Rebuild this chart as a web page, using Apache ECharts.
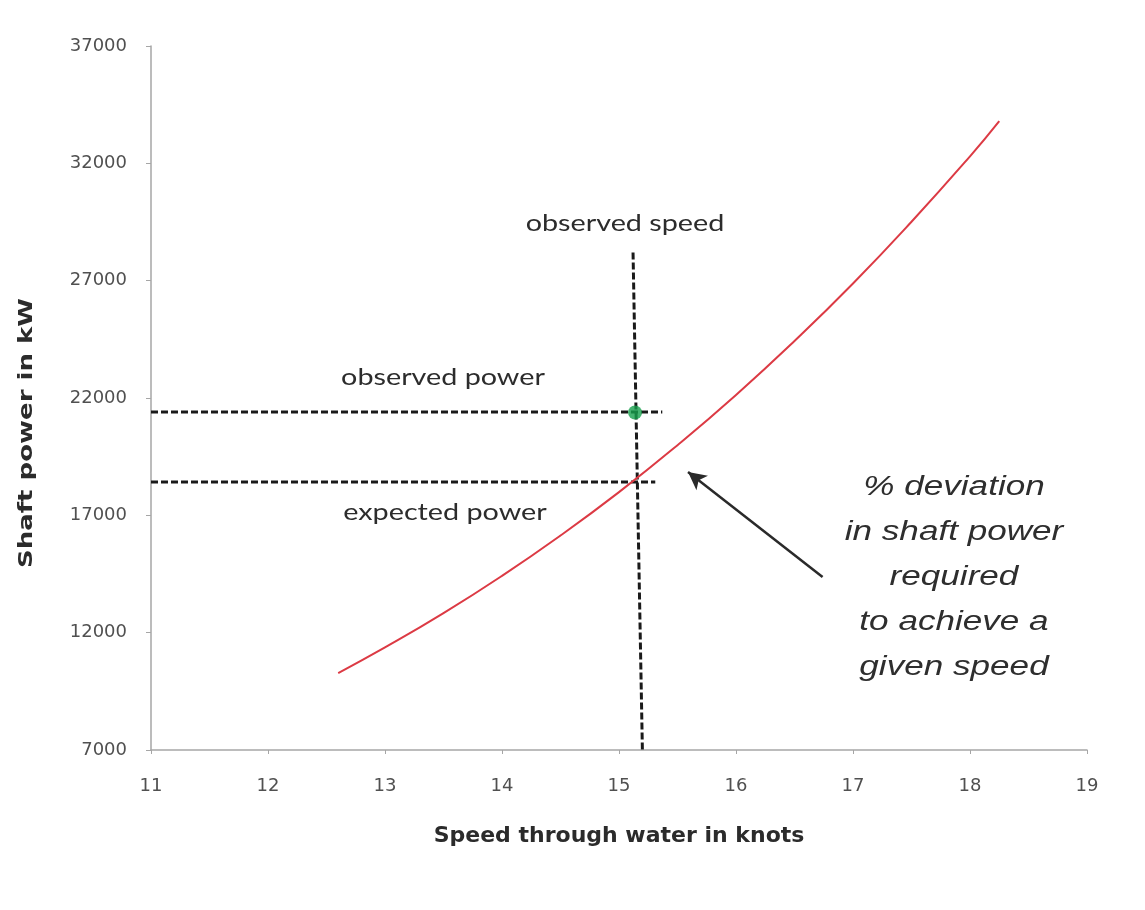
<!DOCTYPE html>
<html>
<head>
<meta charset="utf-8">
<script src="https://cdn.jsdelivr.net/npm/echarts@6/dist/echarts.min.js"></script>
<style>html,body{margin:0;padding:0;background:#fff;}#c{width:1145px;height:910px;}</style>
</head>
<body>
<div id="c"></div>
<script>
// ---- data ----
const speeds = [12.6, 13, 13.5, 14, 14.5, 15, 15.5, 16, 16.5, 17, 17.5, 18, 18.25];
const powerCurve = [10280, 11370, 12830, 14420, 16140, 17990, 19990, 22130, 24430, 26880, 29510, 32300, 33800];
const xTicks = [11, 12, 13, 14, 15, 16, 17, 18, 19];
const yTicks = [7000, 12000, 17000, 22000, 27000, 32000, 37000];
const observedSpeedLine = [[15.12, 28200], [15.20, 7000]];
const observedPowerLine = [[11, 21400], [15.37, 21400]];
const expectedPowerLine = [[11, 18420], [15.31, 18420]];
const observedPoint = [[15.137, 21380]];
const arrowLine = [[16.74, 14370], [15.59, 18850]];
const labels = {
  observedSpeed: 'observed speed',
  observedPower: 'observed power',
  expectedPower: 'expected power',
  note: ['% deviation', 'in shaft power', 'required', 'to achieve a', 'given speed']
};
const xName = 'Speed through water in knots';
const yName = 'Shaft power in kW';

const chart = echarts.init(document.getElementById('c'), null, {renderer: 'canvas'});
const dashStyle = {color: '#1a1a1a', width: 3, type: [7, 3]};
const annoFont = {fontFamily: 'Lato', fontSize: 23, fill: '#2c2c2c'};

chart.setOption({
  animation: false,
  backgroundColor: '#ffffff',
  grid: {left: 151, right: 58, top: 46, bottom: 160},
  xAxis: {
    type: 'value', min: xTicks[0], max: xTicks[xTicks.length - 1], interval: 1,
    axisLine: {lineStyle: {color: '#a6a6a6', width: 1.5}},
    axisTick: {show: true, length: 4, lineStyle: {color: '#a6a6a6'}},
    splitLine: {show: false},
    axisLabel: {color: '#505050', fontFamily: 'DejaVu Sans', fontSize: 18, margin: 27},
    name: xName, nameLocation: 'middle', nameGap: 75,
    nameTextStyle: {color: '#2b2b2b', fontFamily: 'DejaVu Sans', fontWeight: 'bold', fontSize: 22}
  },
  yAxis: {
    type: 'value', min: yTicks[0], max: yTicks[yTicks.length - 1],
    axisLine: {show: true, lineStyle: {color: '#a6a6a6', width: 1.5}},
    axisTick: {show: true, length: 5, customValues: yTicks, lineStyle: {color: '#a6a6a6'}},
    splitLine: {show: false},
    axisLabel: {color: '#505050', fontFamily: 'DejaVu Sans', fontSize: 18, margin: 24, customValues: yTicks,
      formatter: v => String(v)}
  },
  graphic: [
    {type: 'text', rotation: Math.PI / 2, x: 27, y: 433, scaleX: 1.3,
      style: {text: yName, fontFamily: 'DejaVu Sans', fontWeight: 'bold', fontSize: 20, fill: '#2b2b2b', align: 'center', verticalAlign: 'middle'}},
    {type: 'text', x: 625, y: 224, scaleX: 1.25,
      style: Object.assign({text: labels.observedSpeed, align: 'center', verticalAlign: 'middle'}, annoFont)},
    {type: 'text', x: 443, y: 378, scaleX: 1.25,
      style: Object.assign({text: labels.observedPower, align: 'center', verticalAlign: 'middle'}, annoFont)},
    {type: 'text', x: 445, y: 513, scaleX: 1.25,
      style: Object.assign({text: labels.expectedPower, align: 'center', verticalAlign: 'middle'}, annoFont)},
    {type: 'text', x: 954, y: 577, scaleX: 1.3,
      style: {text: labels.note.join('\n'), align: 'center', verticalAlign: 'middle', lineHeight: 45,
        fontFamily: 'Liberation Sans', fontStyle: 'italic', fontSize: 27, fill: '#2e2e2e'}}
  ],
  series: [
    {type: 'line', data: speeds.map((s, i) => [s, powerCurve[i]]), smooth: true, showSymbol: false,
      lineStyle: {color: '#dc3a44', width: 2}, z: 3},
    {type: 'line', data: observedSpeedLine, showSymbol: false, lineStyle: dashStyle, z: 2},
    {type: 'line', data: observedPowerLine, showSymbol: false, lineStyle: dashStyle, z: 2},
    {type: 'line', data: expectedPowerLine, showSymbol: false, lineStyle: dashStyle, z: 2},
    {type: 'scatter', data: observedPoint, symbol: 'circle', symbolSize: 14,
      itemStyle: {color: '#17a04c'}, z: 5},
    {type: 'line', data: [], showSymbol: false,
      markLine: {silent: true, symbol: ['none', 'arrow'], symbolSize: [14, 18], label: {show: false},
        lineStyle: {color: '#2a2a2a', width: 2.5, type: 'solid'},
        data: [[{coord: arrowLine[0]}, {coord: arrowLine[1]}]]}}
  ]
});
</script>
</body>
</html>
